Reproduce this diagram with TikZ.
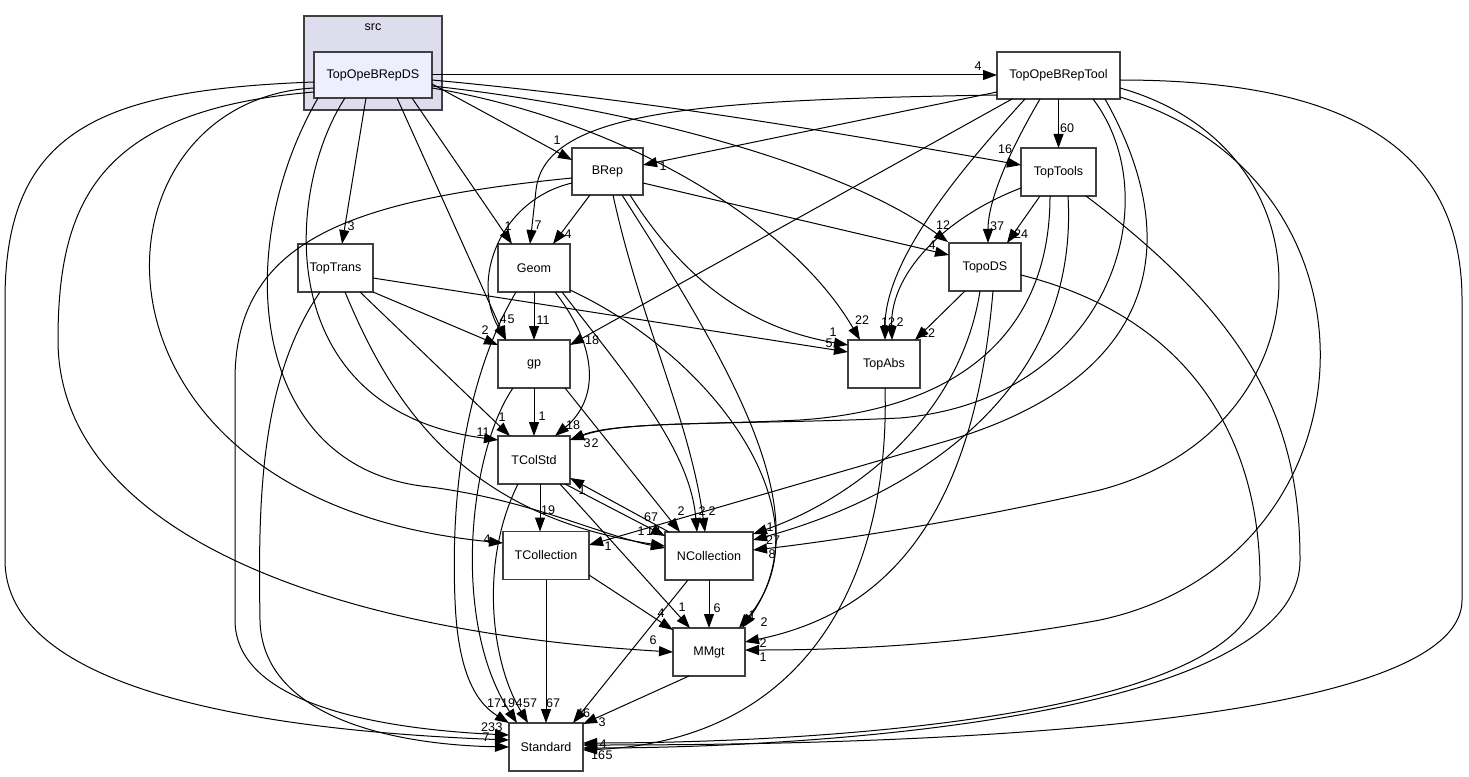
\documentclass[tikz,border=0pt]{standalone}
\usepackage{fontspec}
\setmainfont{Liberation Sans}
\usetikzlibrary{arrows.meta}
\definecolor{clusterfill}{HTML}{DDDDEE}
\definecolor{dsfill}{HTML}{EEEEFF}
\definecolor{boxline}{HTML}{404040}
\tikzset{
  box/.style={draw=boxline, line width=1pt, fill=white, minimum width=54pt, minimum height=36pt, inner sep=0pt, font=\fontsize{9.4}{11}\selectfont},
  dep/.style={draw=black, line width=0.75pt, -{Triangle[length=10.5pt,width=7.5pt]}},
  lbl/.style={inner sep=0pt, font=\fontsize{9.4}{11}\selectfont},
}
\begin{document}
\begin{tikzpicture}[x=0.75pt,y=-0.75pt]
\useasboundingbox (0,0) rectangle (1469,777);
\fill[white] (0,0) rectangle (1469,777);
% cluster
\draw[boxline, line width=1pt, fill=clusterfill] (304,16) rectangle (442,110);
\node[lbl] (srclbl) at (373,27) {src};
% nodes
\node[box, fill=dsfill, minimum width=88.5pt, minimum height=34.5pt] (ds) at (373,75) {TopOpeBRepDS};
\node[box, minimum width=92.25pt, minimum height=35.25pt] (tool) at (1058.5,75.5) {TopOpeBRepTool};
\node[box, minimum width=53.25pt, minimum height=35.25pt] (brep) at (607.5,171.5) {BRep};
\node[box, minimum width=56.25pt] (tt) at (1058.5,172) {TopTools};
\node[box] (tds) at (985,267) {TopoDS};
\node[box, minimum width=56.25pt] (ttr) at (335.5,268) {TopTrans};
\node[box] (geom) at (534,268) {Geom};
\node[box] (gp) at (534,364) {gp};
\node[box] (tabs) at (884,364) {TopAbs};
\node[box] (tcs) at (534,460) {TColStd};
\node[box, minimum width=64.5pt] (tcol) at (546,555.5) {TCollection};
\node[box, minimum width=66pt] (ncol) at (709,556) {NCollection};
\node[box] (mmgt) at (709,652) {MMgt};
\node[box, minimum width=55.5pt] (std) at (546,747) {Standard};
% edges from TopOpeBRepDS
\draw[dep] ([shift={(59,0)}]ds.center) -- ([shift={(-61.5,-0.5)}]tool.center);
\draw[dep] ([shift={(59,9)}]ds.center) -- ([shift={(-35.5,-11.5)}]brep.center);
\draw[dep] ([shift={(-7,23)}]ds.center) -- ([shift={(6.5,-24)}]ttr.center);
\draw[dep] ([shift={(39,23)}]ds.center) -- ([shift={(-22,-24)}]geom.center);
\draw[dep] ([shift={(24,23)}]ds.center) -- ([shift={(-28,-24)}]gp.center);
\draw[dep] ([shift={(59,5)}]ds.center) .. controls (650,100) and (850,135) .. ([shift={(-37.5,-7)}]tt.center);
\draw[dep] ([shift={(59,11)}]ds.center) .. controls (650,110) and (850,170) .. ([shift={(-37,-25)}]tds.center);
\draw[dep] ([shift={(59,13)}]ds.center) .. controls (620,120) and (790,220) .. ([shift={(-24,-24)}]tabs.center);
\draw[dep] ([shift={(-28,23)}]ds.center) .. controls (285,190) and (270,410) .. ([shift={(-36,-20)}]tcs.center);
\draw[dep] ([shift={(-55,23)}]ds.center) .. controls (230,250) and (250,470) .. (430,487) .. controls (530,500) and (600,535) .. ([shift={(-44,-8)}]ncol.center);
\draw[dep] ([shift={(-59,13)}]ds.center) .. controls (80,100) and (60,500) .. ([shift={(-43,-12.5)}]tcol.center);
\draw[dep] ([shift={(-59,17)}]ds.center) .. controls (100,110) and (58,200) .. (58,340) .. controls (58,520) and (300,630) .. ([shift={(-36,0)}]mmgt.center);
\draw[dep] ([shift={(-59,7)}]ds.center) .. controls (100,90) and (5,130) .. (5,300) -- (5,560) .. controls (5,700) and (300,732) .. ([shift={(-37,-7)}]std.center);
% edges from TopOpeBRepTool
\draw[dep] ([shift={(0,23.5)}]tool.center) -- ([shift={(0,-24)}]tt.center);
\draw[dep] ([shift={(-61.5,16.5)}]tool.center) -- ([shift={(35.5,-6.5)}]brep.center);
\draw[dep] ([shift={(-61.5,19.5)}]tool.center) .. controls (700,100) and (545,110) .. (536,190) -- ([shift={(-4,-24)}]geom.center);
\draw[dep] ([shift={(-46.5,23.5)}]tool.center) -- ([shift={(36,-19)}]gp.center);
\draw[dep] ([shift={(-33.5,23.5)}]tool.center) .. controls (960,170) and (885,260) .. ([shift={(1,-24)}]tabs.center);
\draw[dep] ([shift={(-18.5,23.5)}]tool.center) .. controls (1010,150) and (988,200) .. ([shift={(3,-24)}]tds.center);
\draw[dep] ([shift={(34.5,23.5)}]tool.center) .. controls (1170,200) and (1110,400) .. (900,418) .. controls (750,425) and (620,420) .. ([shift={(36,-20)}]tcs.center);
\draw[dep] ([shift={(46.5,23.5)}]tool.center) .. controls (1190,250) and (1150,380) .. (950,440) -- ([shift={(43,-10.5)}]tcol.center);
\draw[dep] ([shift={(61.5,12.5)}]tool.center) .. controls (1340,150) and (1330,430) .. (1100,490) .. controls (950,525) and (800,545) .. ([shift={(44,-6)}]ncol.center);
\draw[dep] ([shift={(61.5,21.5)}]tool.center) .. controls (1400,180) and (1380,560) .. (1100,620) .. controls (950,648) and (820,650) .. ([shift={(36,-2)}]mmgt.center);
\draw[dep] ([shift={(61.5,4.5)}]tool.center) .. controls (1350,80) and (1462,150) .. (1462,300) -- (1462,600) .. controls (1462,740) and (800,745) .. ([shift={(37,-2)}]std.center);
% edges from TopTools
\draw[dep] ([shift={(-18.5,24)}]tt.center) -- ([shift={(22,-24)}]tds.center);
\draw[dep] ([shift={(-37.5,16)}]tt.center) .. controls (950,215) and (890,270) .. ([shift={(8,-24)}]tabs.center);
\draw[dep] ([shift={(-8.5,24)}]tt.center) .. controls (1050,340) and (950,410) .. (800,420) .. controls (700,425) and (620,422) .. ([shift={(36,-20)}]tcs.center);
\draw[dep] ([shift={(9.5,24)}]tt.center) .. controls (1080,400) and (900,500) .. ([shift={(44,-16)}]ncol.center);
\draw[dep] ([shift={(27.5,24)}]tt.center) .. controls (1250,320) and (1300,420) .. (1300,560) .. controls (1300,720) and (800,748) .. ([shift={(37,1)}]std.center);
% edges from TopoDS and TopAbs
\draw[dep] ([shift={(-20,24)}]tds.center) -- ([shift={(31,-24)}]tabs.center);
\draw[dep] ([shift={(-5,24)}]tds.center) .. controls (960,420) and (850,500) .. ([shift={(44,-22)}]ncol.center);
\draw[dep] ([shift={(8,24)}]tds.center) .. controls (975,500) and (900,610) .. ([shift={(36,-10)}]mmgt.center);
\draw[dep] ([shift={(36,8)}]tds.center) .. controls (1200,320) and (1260,450) .. (1260,580) .. controls (1260,720) and (800,743) .. ([shift={(37,-4)}]std.center);
\draw[dep] ([shift={(1,24)}]tabs.center) .. controls (890,560) and (820,740) .. ([shift={(37,3)}]std.center);
% edges from BRep
\draw[dep] ([shift={(-17.5,23.5)}]brep.center) -- ([shift={(19,-24)}]geom.center);
\draw[dep] ([shift={(-35.5,11.5)}]brep.center) .. controls (500,200) and (470,280) .. ([shift={(-28,-24)}]gp.center);
\draw[dep] ([shift={(35.5,11.5)}]brep.center) -- ([shift={(-36,-12)}]tds.center);
\draw[dep] ([shift={(22.5,23.5)}]brep.center) .. controls (690,290) and (760,330) .. ([shift={(-36,-19)}]tabs.center);
\draw[dep] ([shift={(5.5,23.5)}]brep.center) .. controls (640,320) and (690,420) .. ([shift={(-4,-24)}]ncol.center);
\draw[dep] ([shift={(14.5,23.5)}]brep.center) .. controls (740,380) and (820,520) .. ([shift={(33,-24)}]mmgt.center);
\draw[dep] ([shift={(-35.5,6.5)}]brep.center) .. controls (350,200) and (235,240) .. (235,380) -- (235,620) .. controls (235,710) and (400,730) .. ([shift={(-37,-12)}]std.center);
% edges from TopTrans
\draw[dep] ([shift={(37.5,24)}]ttr.center) -- ([shift={(-36,-19)}]gp.center);
\draw[dep] ([shift={(24.5,24)}]ttr.center) -- ([shift={(-24,-24)}]tcs.center);
\draw[dep] ([shift={(9.5,24)}]ttr.center) .. controls (390,400) and (460,515) .. ([shift={(-44,-10)}]ncol.center);
\draw[dep] ([shift={(37.5,10)}]ttr.center) -- ([shift={(-36,-12)}]tabs.center);
\draw[dep] ([shift={(-15.5,24)}]ttr.center) .. controls (260,380) and (258,500) .. (260,620) .. controls (262,720) and (400,745) .. ([shift={(-37,0)}]std.center);
% edges from Geom
\draw[dep] ([shift={(0,24)}]geom.center) -- ([shift={(0,-24)}]gp.center);
\draw[dep] ([shift={(21,24)}]geom.center) .. controls (600,350) and (598,400) .. ([shift={(21,-24)}]tcs.center);
\draw[dep] ([shift={(28,24)}]geom.center) .. controls (630,380) and (690,450) .. ([shift={(-12,-24)}]ncol.center);
\draw[dep] ([shift={(36,22)}]geom.center) .. controls (720,360) and (830,520) .. ([shift={(30,-24)}]mmgt.center);
\draw[dep] ([shift={(-18,24)}]geom.center) .. controls (470,370) and (450,480) .. (455,600) .. controls (458,680) and (480,705) .. ([shift={(-37,-24)}]std.center);
% edges from gp
\draw[dep] ([shift={(0,24)}]gp.center) -- ([shift={(0,-24)}]tcs.center);
\draw[dep] ([shift={(31,24)}]gp.center) -- ([shift={(-29,-24)}]ncol.center);
\draw[dep] ([shift={(-21,24)}]gp.center) .. controls (470,450) and (450,620) .. ([shift={(-29,-24)}]std.center);
% edges from TColStd
\draw[dep] ([shift={(6,24)}]tcs.center) -- ([shift={(-6,-24)}]tcol.center);
\draw[dep] ([shift={(31,24)}]tcs.center) -- ([shift={(-44,-20)}]ncol.center);
\draw[dep] ([shift={(-40,-24)}]ncol.center) -- ([shift={(36,18)}]tcs.center);
\draw[dep] ([shift={(26,24)}]tcs.center) -- ([shift={(-19,-24)}]mmgt.center);
\draw[dep] ([shift={(-16,24)}]tcs.center) .. controls (480,560) and (490,660) .. ([shift={(-18,-24)}]std.center);
% edges from TCollection, NCollection, MMgt
\draw[dep] ([shift={(43,19.5)}]tcol.center) -- ([shift={(-36,-22)}]mmgt.center);
\draw[dep] ([shift={(0,24)}]tcol.center) -- ([shift={(0,-24)}]std.center);
\draw[dep] ([shift={(0,24)}]ncol.center) -- ([shift={(0,-24)}]mmgt.center);
\draw[dep] ([shift={(-21,24)}]ncol.center) -- ([shift={(27,-24)}]std.center);
\draw[dep] ([shift={(-20,24)}]mmgt.center) -- ([shift={(37,-23)}]std.center);
% labels
\node[lbl] (l01) at (978,66) {4};
\node[lbl] (l02) at (557,140) {1};
\node[lbl] (l03) at (351,226) {3};
\node[lbl] (l04) at (508,226) {1};
\node[lbl] (l05) at (511,319) {5};
\node[lbl] (l06) at (503,319) {4};
\node[lbl] (l07) at (1005,149) {16};
\node[lbl] (l08) at (943,225) {12};
\node[lbl] (l09) at (862,320) {22};
\node[lbl] (l10) at (483,432) {11};
\node[lbl] (l11) at (641,531) {1};
\node[lbl] (l12) at (653,531) {12};
\node[lbl] (l13) at (487,539) {4};
\node[lbl] (l14) at (653,640) {6};
\node[lbl] (l15) at (488,727) {23};
\node[lbl] (l16) at (499,727) {3};
\node[lbl] (l17) at (486,737) {7};
\node[lbl] (l18) at (1067,128) {60};
\node[lbl] (l19) at (663,166) {1};
\node[lbl] (l20) at (538,225) {7};
\node[lbl] (l21) at (592,340) {18};
\node[lbl] (l22) at (888,322) {12};
\node[lbl] (l23) at (900,322) {2};
\node[lbl] (l24) at (997,226) {37};
\node[lbl] (l25) at (1021,234) {24};
\node[lbl] (l26) at (932,245) {4};
\node[lbl] (l27) at (928,333) {12};
\node[lbl] (l28) at (587,443) {3};
\node[lbl] (l29) at (595,443) {2};
\node[lbl] (l30) at (608,546) {1};
\node[lbl] (l31) at (772,554) {8};
\node[lbl] (l32) at (773,540) {27};
\node[lbl] (l33) at (770,527) {1};
\node[lbl] (l34) at (763,643) {2};
\node[lbl] (l35) at (763,657) {1};
\node[lbl] (l36) at (682,607) {1};
\node[lbl] (l37) at (717,608) {6};
\node[lbl] (l38) at (752,615) {1};
\node[lbl] (l39) at (764,622) {2};
\node[lbl] (l40) at (661,613) {4};
\node[lbl] (l41) at (494,703) {17};
\node[lbl] (l42) at (508,703) {19};
\node[lbl] (l42b) at (519,703) {4};
\node[lbl] (l43) at (530,703) {57};
\node[lbl] (l44) at (553,703) {67};
\node[lbl] (l45) at (583,713) {46};
\node[lbl] (l46) at (602,722) {3};
\node[lbl] (l47) at (603,744) {4};
\node[lbl] (l48) at (595,744) {1};
\node[lbl] (l49) at (598,755) {16};
\node[lbl] (l50) at (609,755) {5};
\node[lbl] (l51) at (542,416) {1};
\node[lbl] (l52) at (502,417) {1};
\node[lbl] (l53) at (485,330) {2};
\node[lbl] (l54) at (543,320) {11};
\node[lbl] (l55) at (573,425) {18};
\node[lbl] (l56) at (582,490) {1};
\node[lbl] (l57) at (651,517) {67};
\node[lbl] (l58) at (681,511) {2};
\node[lbl] (l59) at (702,511) {2};
\node[lbl] (l60) at (712,511) {2};
\node[lbl] (l61) at (548,510) {19};
\node[lbl] (l62) at (833,332) {1};
\node[lbl] (l63) at (829,343) {5};
\node[lbl] (l64) at (568,234) {4};
\end{tikzpicture}
\end{document}
